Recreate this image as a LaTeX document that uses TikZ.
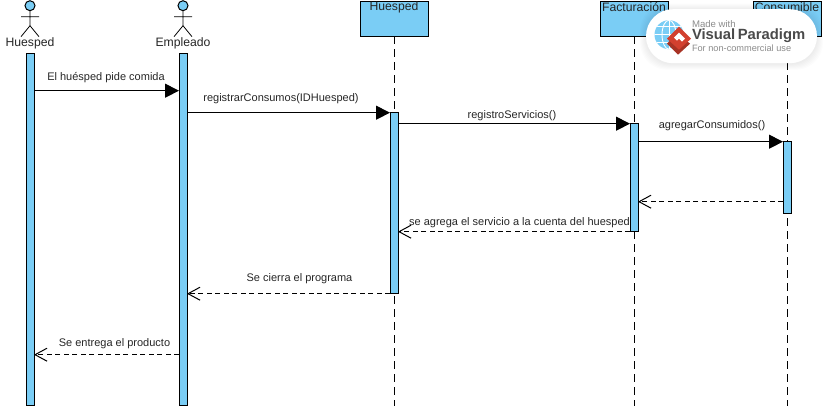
\documentclass[tikz,border=0pt]{standalone}
\usepackage{fontspec}
\setmainfont{Liberation Sans}
\usetikzlibrary{arrows.meta}

\definecolor{vpblue}{HTML}{7ACDF5}
\definecolor{vpgrey}{HTML}{8C8C8C}
\definecolor{vpdark}{HTML}{4A4A4A}
\definecolor{vpred}{HTML}{D2402F}

\tikzset{
  every node/.style={inner sep=0pt, outer sep=0pt},
  bar/.style={draw=black, fill=vpblue, line width=1pt, minimum width=8pt},
  objbox/.style={draw=black, fill=vpblue, line width=1pt, minimum width=68pt, minimum height=35pt},
  objname/.style={font=\fontsize{12.2}{14}\selectfont, text=black!85},
  lbl/.style={font=\fontsize{11}{13}\selectfont, text=black!85},
  lifeline/.style={draw=black, line width=1pt, dash pattern=on 8pt off 5pt},
  call/.style={draw=black, line width=1pt, -{Triangle[length=14pt,width=14pt]}},
  reply/.style={draw=black, line width=1pt, dash pattern=on 5pt off 3.5pt, -{Straight Barb[length=12pt,width=13pt,line width=1pt]}},
}

\begin{document}
\begin{tikzpicture}[x=1pt, y=-1pt]
      \useasboundingbox (0,-0.7) rectangle (823,405.3);

      % object heads and lifelines
      \node[objbox] (hbox) at (394,18) {};
      \node[objbox] (fbox) at (634,18) {};
      \node[objbox] (cbox) at (787,18) {};
      \coordinate (hend) at (394,406);
      \coordinate (fend) at (634,406);
      \coordinate (cend) at (787,406);
      \draw[lifeline] (hbox.south) -- (hend);
      \draw[lifeline] (fbox.south) -- (fend);
      \draw[lifeline] (cbox.south) -- (cend);
      \node[objname] (hname) at (394,6.5) {Huesped};
      \node[objname] (fname) at (634,6.5) {Facturación};
      \node[objname] (cname) at (787,6.5) {Consumible};

      % actors
      \foreach \ax/\aname/\atext in {30/huesped/Huesped, 183/empleado/Empleado} {
        \draw[line width=1pt, fill=vpblue] (\ax,5) circle [radius=5];
        \draw[line width=.8pt] (\ax,10) -- (\ax,25) (\ax-9,16) -- (\ax+9,16)
          (\ax-9,36) -- (\ax,25) -- (\ax+9,36);
        \node[objname] (\aname) at (\ax,43) {\atext};
      }

      % activation bars
      \node[bar, minimum height=352pt] (ahuesped) at (30,229) {};
      \node[bar, minimum height=352pt] (aempleado) at (183,229) {};
      \node[bar, minimum height=181pt] (ohuesped) at (394,202.5) {};
      \node[bar, minimum height=108pt] (ofactura) at (634,177) {};
      \node[bar, minimum height=72pt] (oconsumo) at (787,177) {};

      % messages
      \draw[call] (ahuesped.east |- 0,90) -- (aempleado.west |- 0,90);
      \draw[call] (aempleado.east |- 0,112) -- (ohuesped.west |- 0,112);
      \draw[call] (ohuesped.east |- 0,123) -- (ofactura.west |- 0,123);
      \draw[call] (ofactura.east |- 0,141) -- (oconsumo.west |- 0,141);
      \draw[reply] (oconsumo.west |- 0,201) -- (ofactura.east |- 0,201);
      \draw[reply] (ofactura.west |- 0,231) -- (ohuesped.east |- 0,231);
      \draw[reply] (ohuesped.west |- 0,293) -- (aempleado.east |- 0,293);
      \draw[reply] (aempleado.west |- 0,354) -- (ahuesped.east |- 0,354);

      \node[lbl] (m1) at (106,76.5) {El huésped pide comida};
      \node[lbl] (m2) at (281,97.5) {registrarConsumos(IDHuesped)};
      \node[lbl] (m3) at (512,114.5) {registroServicios()};
      \node[lbl] (m4) at (712,124.5) {agregarConsumidos()};
      \node[lbl] (m5) at (519.5,221.5) {se agrega el servicio a la cuenta del huesped};
      \node[lbl] (m6) at (299.5,277.5) {Se cierra el programa};
      \node[lbl] (m7) at (114.5,342.5) {Se entrega el producto};

      % watermark badge
      \foreach \sh in {6,5,4,3,2,1} {
        \fill[black, opacity=.012, rounded corners=27pt] (646-\sh,9-\sh) rectangle (817+\sh,63+\sh);
      }
      \fill[white, rounded corners=27pt] (646,8.5) rectangle (817,62.5);
      \fill[vpblue] (669,34) circle [radius=14.5];
      \begin{scope}
        \clip (669,34) circle [radius=14.5];
        \draw[white, line width=.9pt] (669,34) ellipse [x radius=7, y radius=14.5];
        \draw[white, line width=.9pt] (654,34) -- (684,34) (654,26) -- (684,26) (654,42) -- (684,42) (669,19) -- (669,49);
      \end{scope}
      \fill[vpred!80!black] (667,43) -- (678,32) -- (690,43) -- (678,54) -- cycle;
      \fill[vpred] (667,38) -- (679,26) -- (691,38) -- (679,49) -- cycle;
      \fill[white] (674,37) -- (679,32) -- (685,38) -- (682,41) -- (679,38) -- (677,40) -- cycle;
      \node[anchor=west, text=vpgrey, font=\fontsize{9.6}{12}\selectfont] (madewith) at (692,23) {Made with};
      \node[anchor=west, text=vpdark, font=\fontsize{14.8}{18}\bfseries\selectfont] (vpname) at (692,35.5) {Visual\,Paradigm};
      \node[anchor=west, text=vpgrey, font=\fontsize{9.2}{12}\selectfont] (noncom) at (692,47.5) {For non-commercial use};
\end{tikzpicture}
\end{document}
